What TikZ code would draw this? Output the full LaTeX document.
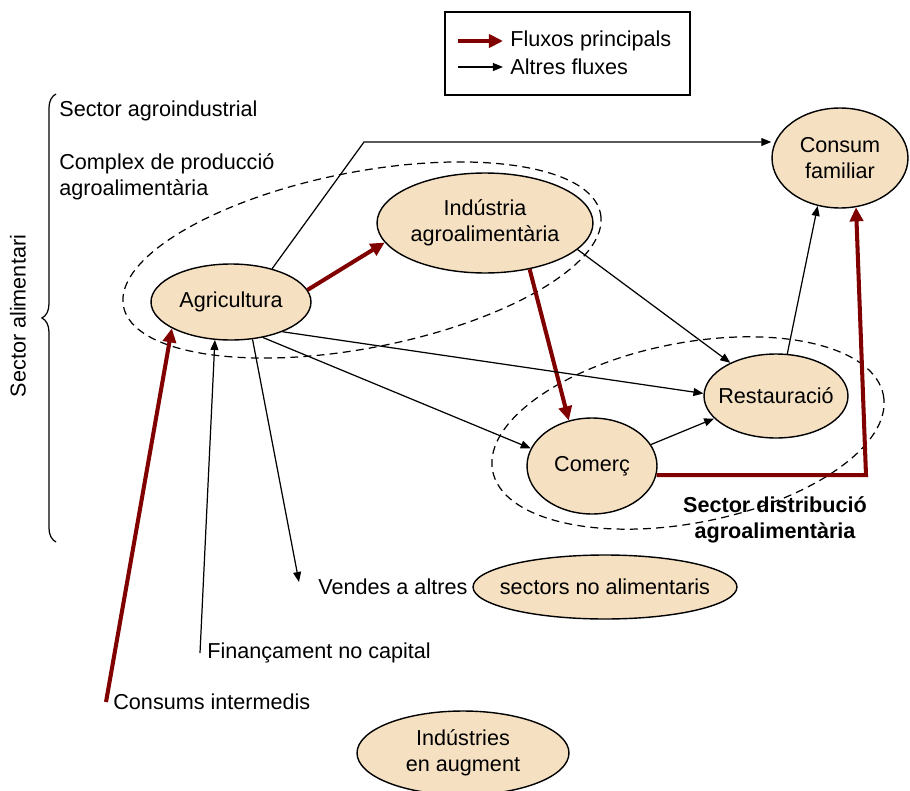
\documentclass[tikz,border=0pt]{standalone}
\usepackage{fontspec}
\setmainfont{Liberation Sans}
\usetikzlibrary{shapes}
\usetikzlibrary{arrows.meta}
\usetikzlibrary{decorations.pathreplacing}

\definecolor{flowred}{RGB}{128,0,0}
\definecolor{sectorfill}{RGB}{245,224,193}

\begin{document}
\begin{tikzpicture}[x=.02cm, y=-.02cm,
every node/.style={font=\fontsize{12.3}{15}\selectfont},
sector/.style={ellipse, draw, fill=sectorfill, line width=.8pt, inner sep=0pt, align=center},
txt/.style={anchor=west, inner sep=4pt, align=left},
group/.style={line width=.7pt, dash pattern=on 4.5pt off 3pt},
mainflux/.style={-{Triangle[length=8pt, width=7.5pt]}, color=flowred, line width=2.3pt},
altflux/.style={-{Triangle[length=5.7pt, width=4.5pt]}, line width=.7pt}]

\useasboundingbox (0,0) rectangle (910,791);

%%%%%% GROUPS %%%%%%%%%%

\draw[group, rotate around={11:(362,260)}] (362,260) ellipse [x radius=243, y radius=88];
\draw[group, rotate around={11:(688,433)}] (688,433) ellipse [x radius=199, y radius=90];

\draw[decorate, decoration={brace, amplitude=8pt}, line width=.7pt] (56,542) -- (56,94);
\node[rotate=90] (alim) at (18,316) {Sector alimentari};
\node[txt] (agroind) at (52,111) {Sector agroindustrial};
\node[txt] (complex) at (52,177) {Complex de producció\\agroalimentària};
\node[align=center, font=\fontsize{12.3}{15}\selectfont\bfseries] (distr) at (775,520) {Sector distribució\\agroalimentària};

%%%%%% SECTORS %%%%%%%%%%

\node[sector, minimum width=3.2cm, minimum height=1.52cm] (agri) at (231,302) {Agricultura};
\node[sector, minimum width=4.32cm, minimum height=2cm] (ind) at (485,223) {Indústria\\agroalimentària};
\node[sector, minimum width=2.72cm, minimum height=2cm] (cons) at (840,158) {Consum\\familiar};
\node[sector, minimum width=2.88cm, minimum height=1.68cm, inner xsep=-4pt] (rest) at (776,396) {Restauració};
\node[sector, minimum width=2.6cm, minimum height=1.92cm] (com) at (592,466) {Comerç};
\node[sector, minimum width=5.28cm, minimum height=1.28cm, inner xsep=-8pt] (sect) at (605,587) {sectors no alimentaris};
\node[sector, minimum width=4.24cm, minimum height=1.68cm] (indaug) at (463,753) {Indústries\\en augment};

\node[txt] (vend) at (311,587) {Vendes a altres};
\node[txt] (fin) at (200,653) {Finançament no capital};
\node[txt] (consint) at (106,702) {Consums intermedis};

\coordinate (k1) at (364,142);
\coordinate (k2) at (866,0);
\coordinate (vendpt) at (299,582);

%%%%%% FLUXOS %%%%%%%%%%

\draw[mainflux] (agri.9) -- (ind.191);
\draw[mainflux] (ind.-46) -- (com.117);
\draw[mainflux] (com.-8) -- (com.-8 -| k2) -- (cons.-72);
\draw[mainflux] (consint.west) -- (agri.-156);

\draw[altflux] (agri.39) -- (k1) -- (k1 -| cons.west);
\draw[altflux] (agri.-48) -- (com.164);
\draw[altflux] (agri.-30) -- (rest.178);
\draw[altflux] (agri.-60) -- (vendpt);
\draw[altflux] (fin.west) -- (agri.-113);
\draw[altflux] (ind.-16) -- (rest.144);
\draw[altflux] (com.20) -- (rest.200);
\draw[altflux] (rest.75) -- (cons.-115);

%%%%%% LLEGENDA %%%%%%%%%%

\draw[line width=1pt] (445,12) rectangle (690,95);
\node[txt] (lgmain) at (503,41) {Fluxos principals};
\node[txt] (lgalt) at (503,67) {Altres fluxes};
\coordinate (lgm) at (458,41);
\coordinate (lga) at (458,67);
\draw[mainflux] (lgm) -- (lgmain.west);
\draw[altflux] (lga) -- (lgalt.west);

\end{tikzpicture}
\end{document}
